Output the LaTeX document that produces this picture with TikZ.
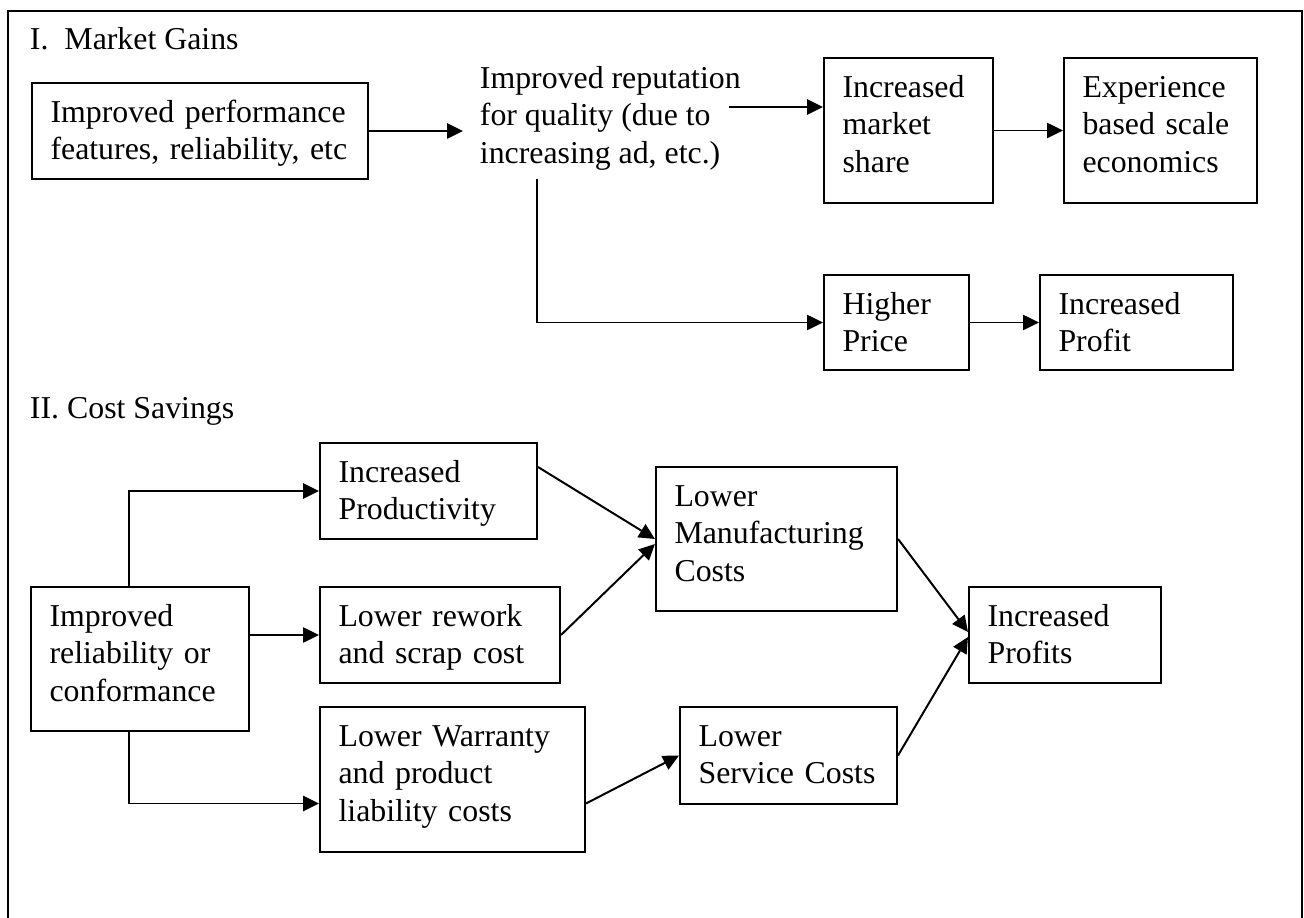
\documentclass[tikz,border=0pt]{standalone}
\usepackage{fontspec}
\setmainfont{Liberation Serif}
\usepackage{tikz}
\usetikzlibrary{arrows.meta}
\usetikzlibrary{calc}

\begin{document}
\begin{tikzpicture}[x=0.377pt, y=-0.377pt, line width=0.75pt,
    >={Triangle[length=6pt, width=5.7pt]},
    txt/.style={font=\fontsize{12}{14.1}\selectfont, align=left},
    blk/.style={txt, draw, inner xsep=7pt, inner ysep=0pt, text height=14.9pt}]

      \useasboundingbox (0, 0) rectangle (1304, 918);
      \draw (8, 918) -- (8, 11) -- (1302, 11) -- (1302, 918);

      \node [txt, anchor=base west, inner sep=0pt] (hdA) at (29, 50) {I.\ \ Market Gains};
      \node [blk, text width=112.7pt, text depth=21.3pt] (perf) at (200, 131) {Improved performance\\features, reliability, etc};
      \node [txt, anchor=west, inner xsep=6pt] (rep) at (463, 118) {Improved reputation\\for quality (due to\\increasing ad, etc.)};
      \node [blk, text width=49.7pt, text depth=39.8pt] (share) at (908.5, 130.5) {Increased\\market\\share};
      \node [blk, text width=58.8pt, text depth=39.8pt] (scale) at (1160.5, 130.5) {Experience\\based scale\\economics};
      \node [blk, text width=40.7pt, text depth=20.9pt] (price) at (896.5, 322.5) {Higher\\Price};
      \node [blk, text width=58.8pt, text depth=20.9pt] (profit) at (1136.5, 322.5) {Increased\\Profit};

      \node [txt, anchor=base west, inner sep=0pt] (hdB) at (29, 419) {II. Cost Savings};
      \node [blk, text width=68.2pt, text depth=39.4pt] (relia) at (140, 659) {Improved\\reliability or\\conformance};
      \node [blk, text width=67.8pt, text depth=21.3pt] (prod) at (428.5, 491) {Increased\\Productivity};
      \node [blk, text width=76.5pt, text depth=21.3pt] (rework) at (440, 635) {Lower rework\\and scrap cost};
      \node [blk, text width=85.9pt, text depth=39.8pt] (warr) at (452.5, 779.5) {Lower Warranty\\and product\\liability costs};
      \node [blk, text width=76.9pt, text depth=39.4pt] (mfg) at (776.5, 539) {Lower\\Manufacturing\\Costs};
      \node [blk, text width=67.8pt, text depth=21.7pt] (serv) at (788.5, 755.5) {Lower\\Service Costs};
      \node [blk, text width=58.4pt, text depth=21.3pt] (gain) at (1065, 635) {Increased\\Profits};

      \coordinate (repR) at (729, 107);
      \coordinate (repS) at (537, 179);

      \draw [->] (perf.east) -- (perf.east -| rep.west);
      \draw [->] (repR) -- (repR -| share.west);
      \draw [->] (share) -- (scale);
      \draw [->] (repS) |- (price);
      \draw [->] (price) -- (profit);

      \draw [->] ($(relia.north)+(-11, 0)$) |- (prod);
      \draw [->] (relia.east |- rework) -- (rework);
      \draw [->] ($(relia.south)+(-11, 0)$) |- ($(warr.west)+(0, 24)$);
      \draw [->] ($(prod.east)+(0, -24)$) -- (mfg.west);
      \draw [->] (rework.east) -- ($(mfg.west)+(0, 5)$);
      \draw [->] ($(warr.east)+(0, 24)$) -- (serv.west);
      \draw [->] (mfg.east) -- ($(gain.west)+(0, -3)$);
      \draw [->] (serv.east) -- ($(gain.west)+(0, 2)$);

    \end{tikzpicture}
\end{document}
